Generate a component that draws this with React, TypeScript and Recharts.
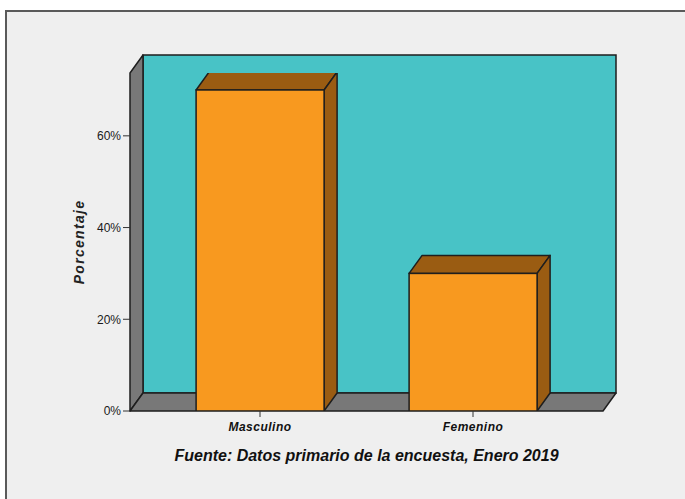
import React from 'react';
import { BarChart, Bar, XAxis, YAxis, ReferenceArea } from 'recharts';

const categories = ['Masculino', 'Femenino'];
const percentages = [70, 30];
const yTicks = [0, 20, 40, 60];
const yMax = 73.7;
const caption = 'Fuente: Datos primario de la encuesta, Enero 2019';
const yTitle = 'Porcentaje';

const data = categories.map((c, i) => ({ name: c, value: percentages[i] }));

const DX = 13;
const DY = 18;
const PAD = 23.5;
const OUTLINE = '#1e1e1e';
const FONT = '"Liberation Sans", Arial, sans-serif';

const Box3D = (props: any) => {
  const x = props.x - PAD;
  const w = props.width + 2 * PAD;
  const { y, height: h } = props;
  return (
    <g>
      <rect x={x + DX} y={y - DY} width={w} height={h} fill="#48c3c6" stroke={OUTLINE} strokeWidth={1.5} />
      <polygon
        points={`${x},${y} ${x + DX},${y - DY} ${x + DX},${y + h - DY} ${x},${y + h}`}
        fill="#787878"
        stroke={OUTLINE}
        strokeWidth={1.5}
        strokeLinejoin="round"
      />
      <polygon
        points={`${x},${y + h} ${x + DX},${y + h - DY} ${x + w + DX},${y + h - DY} ${x + w},${y + h}`}
        fill="#787878"
        stroke={OUTLINE}
        strokeWidth={1.5}
        strokeLinejoin="round"
      />
    </g>
  );
};

const Bar3D = (props: any) => {
  const { x, y, width: w, height: h } = props;
  return (
    <g>
      <polygon
        points={`${x},${y} ${x + DX},${y - DY} ${x + w + DX},${y - DY} ${x + w},${y}`}
        fill="#9a5c12"
        stroke={OUTLINE}
        strokeWidth={1.5}
        strokeLinejoin="round"
      />
      <polygon
        points={`${x + w},${y} ${x + w + DX},${y - DY} ${x + w + DX},${y + h - DY} ${x + w},${y + h}`}
        fill="#9a5c12"
        stroke={OUTLINE}
        strokeWidth={1.5}
        strokeLinejoin="round"
      />
      <rect x={x} y={y} width={w} height={h} fill="#f8991f" stroke={OUTLINE} strokeWidth={1.5} />
    </g>
  );
};

const XTick = (props: any) => {
  const { x, y, payload } = props;
  return (
    <text
      x={x}
      y={y + 12}
      textAnchor="middle"
      fill="#111"
      fontFamily={FONT}
      fontSize={12}
      fontWeight="bold"
      fontStyle="italic"
      letterSpacing={0.5}
    >
      {payload.value}
    </text>
  );
};

const CaptionLabel = (props: any) => {
  const { viewBox } = props;
  return (
    <text
      x={viewBox.x + viewBox.width / 2}
      y={viewBox.y + 50}
      textAnchor="middle"
      fill="#111"
      fontFamily={FONT}
      fontSize={16}
      fontWeight="bold"
      fontStyle="italic"
    >
      {caption}
    </text>
  );
};

const YTitleLabel = (props: any) => {
  const { viewBox } = props;
  const cx = viewBox.x + 14;
  const cy = viewBox.y + viewBox.height / 2;
  return (
    <text
      x={cx}
      y={cy}
      textAnchor="middle"
      transform={`rotate(-90, ${cx}, ${cy})`}
      fill="#222"
      fontFamily={FONT}
      fontSize={14}
      fontWeight="bold"
      fontStyle="italic"
      letterSpacing={1.3}
    >
      {yTitle}
    </text>
  );
};

export default function App() {
  return (
    <div style={{ position: 'absolute', left: 0, top: 0, width: 685, height: 499, background: '#ffffff', overflow: 'hidden' }}>
      <div
        style={{
          position: 'absolute',
          left: 5,
          top: 10,
          width: 700,
          height: 520,
          background: '#efefef',
          borderTop: '2px solid #5a5a5a',
          borderLeft: '2px solid #5a5a5a',
        }}
      />
      <div style={{ position: 'absolute', left: 0, top: 0 }}>
        <BarChart
          width={685}
          height={499}
          data={data}
          margin={{ top: 73, right: 82, bottom: 58, left: 70 }}
          barCategoryGap="20%"
        >
          <XAxis
            dataKey="name"
            type="category"
            height={30}
            padding={{ left: PAD, right: PAD }}
            axisLine={false}
            tickSize={6}
            tickMargin={2}
            tickLine={{ stroke: '#333' }}
            tick={<XTick />}
            label={<CaptionLabel />}
          />
          <YAxis
            type="number"
            width={60}
            domain={[0, yMax]}
            ticks={yTicks}
            allowDataOverflow
            axisLine={false}
            tickSize={7}
            tickMargin={2}
            tickLine={{ stroke: '#333' }}
            tick={{ fill: '#1a1a1a', fontSize: 12, fontFamily: FONT }}
            tickFormatter={(v: number) => `${v}%`}
            label={<YTitleLabel />}
          />
          <ReferenceArea y1={0} y2={yMax} shape={<Box3D />} zIndex={-500} ifOverflow="visible" />
          <Bar dataKey="value" shape={<Bar3D />} isAnimationActive={false} />
        </BarChart>
      </div>
    </div>
  );
}
